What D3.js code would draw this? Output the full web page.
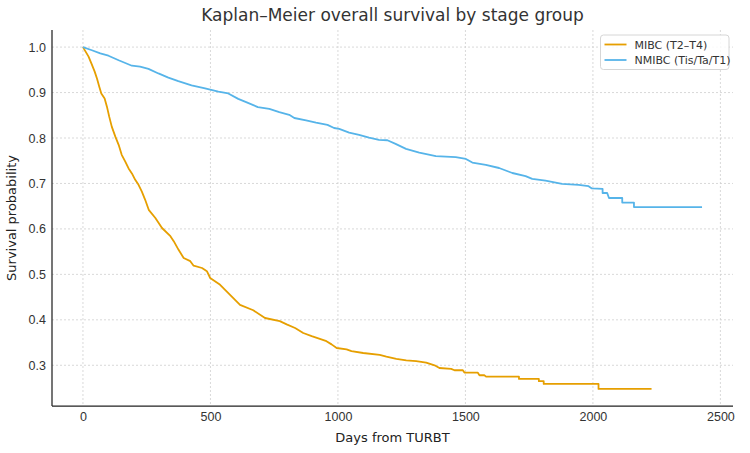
<!DOCTYPE html>
<html>
<head>
<meta charset="utf-8">
<script src="https://cdnjs.cloudflare.com/ajax/libs/d3/7.8.5/d3.min.js"></script>
<style>
	body { margin: 0; background: #fff; }
	svg { font-family: 'DejaVu Sans', sans-serif; }
	.grid line { stroke: #cfcfcf; stroke-width: 0.8; stroke-dasharray: 2,2; }
	.axis path { stroke: #222; stroke-width: 1.25; }
	.axis text { fill: #333; font-size: 12.5px; }
</style>
</head>
<body>
<div id="chart"></div>
<script>
// data (vertices of each survival curve)
var mibcDays = [0, 22, 33, 46, 55, 64, 72, 85, 94, 103, 113, 127, 140, 152, 166, 179, 192, 205, 218, 231,
	244, 258, 284, 310, 343, 356, 375, 395, 421, 434, 467, 486, 499, 538, 577, 616, 668, 714, 772, 799,
	832, 864, 897, 929, 955, 975, 995, 1034, 1053, 1099, 1164, 1190, 1229, 1268, 1307, 1346, 1379, 1398,
	1444, 1457, 1490, 1496, 1548, 1555, 1574, 1581, 1710, 1710, 1788, 1788, 1807, 1807, 2022, 2022, 2230];
var mibcSurv = [1.0, 0.979, 0.964, 0.946, 0.931, 0.913, 0.898, 0.887, 0.869, 0.847, 0.825, 0.803, 0.785, 0.763,
	0.748, 0.733, 0.722, 0.708, 0.697, 0.682, 0.664, 0.642, 0.624, 0.602, 0.584, 0.573, 0.554, 0.536, 0.529,
	0.519, 0.514, 0.507, 0.492, 0.477, 0.455, 0.433, 0.421, 0.404, 0.397, 0.390, 0.382, 0.371, 0.364, 0.358,
	0.353, 0.346, 0.338, 0.335, 0.331, 0.327, 0.323, 0.319, 0.314, 0.311, 0.309, 0.306, 0.300, 0.294, 0.292,
	0.289, 0.289, 0.284, 0.284, 0.278, 0.278, 0.275, 0.275, 0.270, 0.270, 0.265, 0.265, 0.259, 0.259, 0.248, 0.248];

var nmibcDays = [0, 35, 68, 100, 140, 192, 224, 257, 296, 335, 374, 426, 479, 531, 570, 609, 640, 686, 731, 770,
	809, 829, 875, 914, 959, 985, 1005, 1044, 1083, 1122, 1161, 1194, 1226, 1267, 1319, 1384, 1462, 1502,
	1527, 1580, 1632, 1684, 1736, 1762, 1814, 1879, 1944, 1983, 1996, 2038, 2038, 2056, 2063, 2115, 2115,
	2161, 2161, 2428];
var nmibcSurv = [1.0, 0.993, 0.986, 0.981, 0.971, 0.959, 0.957, 0.952, 0.942, 0.933, 0.925, 0.916, 0.909, 0.902,
	0.898, 0.886, 0.879, 0.868, 0.864, 0.857, 0.851, 0.844, 0.839, 0.834, 0.829, 0.822, 0.820, 0.812, 0.807,
	0.801, 0.796, 0.795, 0.787, 0.776, 0.768, 0.760, 0.758, 0.754, 0.746, 0.741, 0.734, 0.723, 0.716, 0.710,
	0.706, 0.699, 0.697, 0.694, 0.689, 0.688, 0.679, 0.679, 0.668, 0.668, 0.658, 0.658, 0.648, 0.648];

var seriesNames = ['MIBC (T2\u2013T4)', 'NMIBC (Tis/Ta/T1)'];
var seriesColors = ['#E69F00', '#56B4E9'];
var xTicks = [0, 500, 1000, 1500, 2000, 2500];
var yTicks = [0.3, 0.4, 0.5, 0.6, 0.7, 0.8, 0.9, 1.0];

// chart
var margin = { top: 30, right: 17, bottom: 47, left: 52 };
var width = 750 - margin.left - margin.right;
var height = 453 - margin.top - margin.bottom;

var svg = d3.select('#chart')
	.append('svg')
	.attr('width', 750)
	.attr('height', 453)
	.append('g')
	.attr('transform', 'translate(' + margin.left + ',' + margin.top + ')');

var series = [
	d3.zip(mibcDays, mibcSurv),
	d3.zip(nmibcDays, nmibcSurv)
];

// matplotlib style 5% padding
var allDays = mibcDays.concat(nmibcDays);
var allSurv = mibcSurv.concat(nmibcSurv);
var xExt = d3.extent(allDays), yExt = d3.extent(allSurv);
var xPad = (xExt[1] - xExt[0]) * 0.05, yPad = (yExt[1] - yExt[0]) * 0.05;

var x = d3.scaleLinear().domain([xExt[0] - xPad, xExt[1] + xPad]).range([0, width]);
var y = d3.scaleLinear().domain([yExt[0] - yPad, yExt[1] + yPad]).range([height, 0]);

// grid
svg.append('g').attr('class', 'grid')
	.selectAll('line').data(xTicks).enter().append('line')
	.attr('x1', d => x(d)).attr('x2', d => x(d))
	.attr('y1', 0).attr('y2', height);
svg.append('g').attr('class', 'grid')
	.selectAll('line').data(yTicks).enter().append('line')
	.attr('y1', d => y(d)).attr('y2', d => y(d))
	.attr('x1', 0).attr('x2', width);

// axes (left + bottom spines only)
svg.append('g')
	.attr('class', 'x axis')
	.attr('transform', 'translate(0,' + height + ')')
	.call(d3.axisBottom(x).tickValues(xTicks).tickSize(0).tickPadding(6).tickFormat(d3.format('d')))
	.call(g => g.select('.domain').attr('d', 'M0,0H' + width));
svg.append('g')
	.attr('class', 'y axis')
	.call(d3.axisLeft(y).tickValues(yTicks).tickSize(0).tickPadding(6).tickFormat(d3.format('.1f')))
	.call(g => g.select('.domain').attr('d', 'M0,0V' + height));

// curves
var line = d3.line()
	.x(d => x(d[0]))
	.y(d => y(d[1]));

svg.selectAll('.km')
	.data(series)
	.enter()
	.append('path')
	.attr('class', 'km')
	.attr('d', line)
	.attr('fill', 'none')
	.attr('stroke', (d, i) => seriesColors[i])
	.attr('stroke-width', 1.8)
	.attr('stroke-linejoin', 'round');

// title + labels
svg.append('text')
	.attr('x', width / 2).attr('y', -9)
	.attr('text-anchor', 'middle')
	.style('font-size', '17px').style('fill', '#333')
	.text('Kaplan\u2013Meier overall survival by stage group');
svg.append('text')
	.attr('x', width / 2).attr('y', height + 36)
	.attr('text-anchor', 'middle')
	.style('font-size', '13px').style('fill', '#222')
	.text('Days from TURBT');
svg.append('text')
	.attr('transform', 'rotate(-90)')
	.attr('x', -height / 2).attr('y', -36)
	.attr('text-anchor', 'middle')
	.style('font-size', '13px').style('fill', '#222')
	.text('Survival probability');

// legend
var lg = svg.append('g').attr('transform', 'translate(' + (600.5 - margin.left) + ',' + (35 - margin.top) + ')');
lg.append('rect')
	.attr('width', 128.5).attr('height', 34.5)
	.attr('rx', 3)
	.attr('fill', 'rgba(255,255,255,0.85)')
	.attr('stroke', '#d6d6d6');
seriesNames.forEach(function (name, i) {
	var yy = 9.5 + i * 15.5;
	lg.append('line')
		.attr('x1', 4).attr('x2', 26)
		.attr('y1', yy).attr('y2', yy)
		.attr('stroke', seriesColors[i]).attr('stroke-width', 1.8);
	lg.append('text')
		.attr('x', 34).attr('y', yy + 4)
		.style('font-size', '11px').style('fill', '#333')
		.text(name);
});
</script>
</body>
</html>
